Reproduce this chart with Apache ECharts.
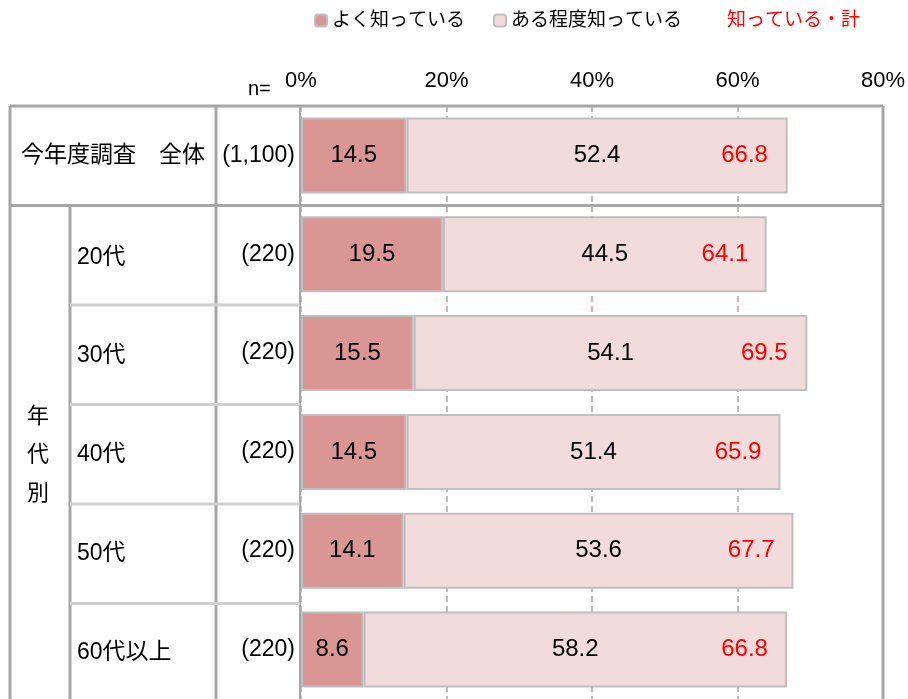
<!DOCTYPE html>
<html><head><meta charset="utf-8">
<script src="https://cdn.jsdelivr.net/npm/echarts@6/dist/echarts.min.js"></script>
<style>html,body{margin:0;padding:0;background:#fff}#c{width:908px;height:699px}</style>
</head><body><div id="c"></div>
<script>
const categories = ['今年度調査　全体', '20代', '30代', '40代', '50代', '60代以上'];
const nLabels = ['(1,100)', '(220)', '(220)', '(220)', '(220)', '(220)'];
const seriesNames = ['よく知っている', 'ある程度知っている', '知っている・計'];
const wellKnown = [14.5, 19.5, 15.5, 14.5, 14.1, 8.6];
const somewhatKnown = [52.4, 44.5, 54.1, 51.4, 53.6, 58.2];
const totalKnown = [66.8, 64.1, 69.5, 65.9, 67.7, 66.8];
const xTicks = [0, 20, 40, 60, 80];
const groupLabel = '年代別';
const nLabelTitle = 'n=';

const FONT = "'Liberation Sans', Arial, 'Noto Sans CJK JP', sans-serif";
const chart = echarts.init(document.getElementById('c'), null, {renderer: 'canvas'});
const GRID_L = 301, GRID_R = 883, GRID_T = 106, ROW_H = 99.5;
const border = '#a6a6a6';
const lines = [];
function ln(x1, y1, x2, y2, color, w) {
  lines.push({type: 'line', z: 50, silent: true, shape: {x1, y1, x2, y2}, style: {stroke: color, lineWidth: w}});
}
const bottom = 720;
ln(10, GRID_T, GRID_R, GRID_T, border, 3);
ln(10, GRID_T, 10, bottom, border, 3);
ln(216, GRID_T, 216, bottom, border, 3);
ln(300, GRID_T, 300, bottom, border, 2);
ln(GRID_R, GRID_T, GRID_R, bottom, border, 3);
ln(10, GRID_T + ROW_H, GRID_R, GRID_T + ROW_H, border, 3);
ln(70, GRID_T + ROW_H, 70, bottom, border, 3);
for (let i = 2; i < categories.length; i++) {
  const y = GRID_T + ROW_H * i;
  ln(70, y, 216, y, '#d0d0d0', 3);
  ln(216, y, 300, y, '#d0d0d0', 3);
}
const fmt1 = p => Number(p.value).toFixed(1);
const option = {
  animation: false,
  textStyle: {fontFamily: FONT},
  legend: {
    top: 11, left: 314, padding: 0, itemWidth: 12, itemHeight: 12, itemGap: 28,
    textStyle: {fontSize: 19, color: '#000', fontFamily: FONT},
    data: [
      {name: seriesNames[0]},
      {name: seriesNames[1]},
      {name: seriesNames[2], icon: 'none', textStyle: {color: '#ff0000'}}
    ]
  },
  grid: {left: GRID_L, top: GRID_T, width: GRID_R - GRID_L, height: ROW_H * categories.length, containLabel: false},
  xAxis: {
    type: 'value', position: 'top', min: xTicks[0], max: xTicks[xTicks.length - 1], interval: 20,
    axisLine: {show: false}, axisTick: {show: false},
    axisLabel: {formatter: '{value}%', fontSize: 22, color: '#000', margin: 14, fontFamily: FONT},
    splitLine: {show: true, lineStyle: {color: border, type: [6, 4], width: 1.5}}
  },
  yAxis: [
    {
      type: 'category', data: nLabels, inverse: true, position: 'left',
      axisLine: {show: false}, axisTick: {show: false},
      axisLabel: {fontSize: 23, color: '#000', margin: 6, fontFamily: FONT, padding: [0, 0, 4, 0]}
    },
    {
      type: 'category', data: categories, inverse: true, position: 'left',
      axisLine: {show: false}, axisTick: {show: false},
      axisLabel: {
        align: 'left', margin: 291, fontSize: 23, color: '#000', fontFamily: FONT,
        formatter: (v, i) => i === 0 ? '{a|' + v + '}' : '{b|' + v + '}',
        rich: {
          a: {fontSize: 23, color: '#000', fontFamily: FONT, padding: [0, 0, 0, 11]},
          b: {fontSize: 23, color: '#000', fontFamily: FONT, padding: [6, 0, 0, 67]}
        }
      }
    }
  ],
  series: [
    {
      name: seriesNames[0], type: 'bar', stack: 'k', data: wellKnown, barWidth: 76, barGap: '-100%',
      itemStyle: {color: '#d99694', borderColor: '#bfbfbf', borderWidth: 2},
      label: {show: true, position: 'inside', color: '#000', fontSize: 24, fontFamily: FONT, formatter: fmt1}
    },
    {
      name: seriesNames[1], type: 'bar', stack: 'k', data: somewhatKnown, barWidth: 76, barGap: '-100%',
      itemStyle: {color: '#f2dcdb', borderColor: '#bfbfbf', borderWidth: 2},
      label: {show: true, position: 'inside', color: '#000', fontSize: 24, fontFamily: FONT, formatter: fmt1}
    },
    {
      name: seriesNames[2], type: 'bar', data: totalKnown, barWidth: 76, barGap: '-100%', silent: true,
      itemStyle: {color: 'rgba(0,0,0,0)'},
      label: {show: true, position: 'insideRight', distance: 19, color: '#ff0000', fontSize: 24, fontFamily: FONT, formatter: fmt1}
    }
  ],
  graphic: lines.concat([
    {type: 'text', z: 60, left: 248, top: 79, style: {text: nLabelTitle, fill: '#000', font: '20px ' + FONT}},
    {type: 'text', z: 60, x: 38, y: 455, style: {text: groupLabel.split('').join('\n'), font: '22px ' + FONT, fill: '#000', align: 'center', verticalAlign: 'middle', lineHeight: 38.5}}
  ])
};
chart.setOption(option);
</script></body></html>
